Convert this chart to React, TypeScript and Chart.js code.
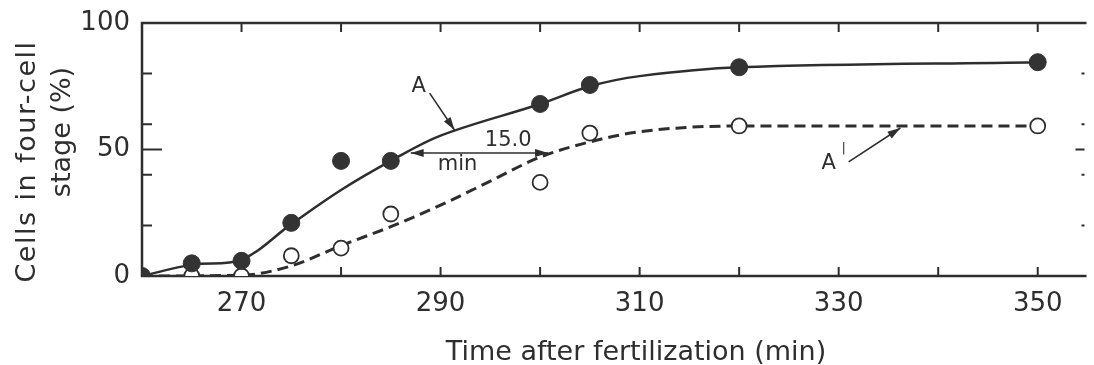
import React, { useEffect, useRef } from "react";
import { Chart, registerables } from "chart.js";

Chart.register(...registerables);

// ---- data ----
// Curve A (solid, fitted through filled points)
const curveAX = [260, 265, 270, 275, 280, 285, 290, 300, 305, 310, 320, 350];
const curveAY = [0, 4.5, 6.5, 20.5, 34, 45.5, 55.5, 68, 75, 79, 82.5, 84.5];
// Filled circles (series A)
const filledX = [260, 265, 270, 275, 280, 285, 300, 305, 320, 350];
const filledY = [0, 5, 6, 21, 45.5, 45.5, 68, 75.5, 82.5, 84.5];
// Open circles (series A')
const openX = [265, 270, 275, 280, 285, 300, 305, 320, 350];
const openY = [0, 0, 8, 11, 24.5, 37, 56.5, 59.3, 59.3];
// Curve A' (dashed, fitted)
const curveBX = [260, 270, 275, 280, 285, 290, 295, 300, 305, 310, 320, 350];
const curveBY = [0, 0.3, 4, 12, 19.5, 28, 37.5, 47, 53, 57, 59.3, 59.3];

// axis ticks
const xTickValues = [270, 280, 290, 300, 310, 320, 330, 340, 350];
const xTickLabels = ["270", "", "290", "", "310", "", "330", "", "350"];
const yTickValues = [0, 20, 40, 50, 60, 80, 100];
const yTickLabels = ["0", "", "", "50", "", "", "100"];

// text
const xTitle = "Time after fertilization (min)";
const yTitleLines = ["Cells in four-cell", "stage (%)"];

// annotations (data coordinates)
const labelA = { text: "A", x: 287.8, y: 75 };
const arrowA = { x1: 288.9, y1: 72.3, x2: 291.4, y2: 57.7 };
const label15 = { text: "15.0", x: 296.8, y: 53.4 };
const labelMin = { text: "min", x: 291.7, y: 44 };
const arrow15 = { x1: 287.0, x2: 300.8, y: 48.6 };
const labelA2 = { text: "A", x: 329.0, y: 44.3 };
const primeA2 = { text: "|", x: 330.5, y: 50.5 };
const arrowA2 = { x1: 331.0, y1: 45.1, x2: 336.2, y2: 58.5 };

const INK = "#2e2e2e";
const FONT = "'DejaVu Sans', sans-serif";

const toPts = (xs: number[], ys: number[]) => xs.map((x, i) => ({ x, y: ys[i] }));

function arrowHead(ctx: CanvasRenderingContext2D, x1: number, y1: number, x2: number, y2: number, len = 13, half = 4) {
  const a = Math.atan2(y2 - y1, x2 - x1);
  ctx.beginPath();
  ctx.moveTo(x2, y2);
  ctx.lineTo(x2 - len * Math.cos(a) + half * Math.sin(a), y2 - len * Math.sin(a) - half * Math.cos(a));
  ctx.lineTo(x2 - len * Math.cos(a) - half * Math.sin(a), y2 - len * Math.sin(a) + half * Math.cos(a));
  ctx.closePath();
  ctx.fill();
}

const framePlugin = {
  id: "frame",
  beforeDatasetsDraw(chart: any) {
    const { ctx, chartArea, scales } = chart;
    const { left, right, top, bottom } = chartArea;
    const x = scales.x;
    const y = scales.y;
    ctx.save();
    ctx.strokeStyle = INK;
    ctx.lineWidth = 2.5;
    ctx.beginPath();
    ctx.moveTo(right + 2, top);
    ctx.lineTo(left, top);
    ctx.lineTo(left, bottom);
    ctx.lineTo(right + 2, bottom);
    ctx.stroke();
    ctx.lineWidth = 2;
    ctx.beginPath();
    xTickValues.forEach((v) => {
      const px = x.getPixelForValue(v);
      ctx.moveTo(px, bottom);
      ctx.lineTo(px, bottom - 9);
      ctx.moveTo(px, top);
      ctx.lineTo(px, top + 9);
    });
    yTickValues.forEach((v) => {
      if (v === 0 || v === 100) return;
      const py = y.getPixelForValue(v);
      const len = v === 50 ? 20 : 10;
      const rlen = v === 50 ? 9 : 3;
      ctx.moveTo(left, py);
      ctx.lineTo(left + len, py);
      ctx.moveTo(right, py);
      ctx.lineTo(right - rlen, py);
    });
    ctx.stroke();
    ctx.restore();
  },
  afterDatasetsDraw(chart: any) {
    const { ctx, scales } = chart;
    const x = scales.x;
    const y = scales.y;
    const X = (v: number) => x.getPixelForValue(v);
    const Y = (v: number) => y.getPixelForValue(v);
    ctx.save();
    ctx.fillStyle = INK;
    ctx.strokeStyle = INK;
    ctx.lineWidth = 1.6;
    ctx.font = `21px ${FONT}`;
    ctx.textAlign = "center";
    ctx.textBaseline = "middle";
    [labelA, label15, labelMin, labelA2].forEach((l) => ctx.fillText(l.text, X(l.x), Y(l.y)));
    ctx.font = `13px ${FONT}`;
    ctx.fillText(primeA2.text, X(primeA2.x), Y(primeA2.y));

    // arrow A
    let ax1 = X(arrowA.x1), ay1 = Y(arrowA.y1), ax2 = X(arrowA.x2), ay2 = Y(arrowA.y2);
    ctx.beginPath();
    ctx.moveTo(ax1, ay1);
    ctx.lineTo(ax2, ay2);
    ctx.stroke();
    arrowHead(ctx, ax1, ay1, ax2, ay2);
    // arrow A'
    ax1 = X(arrowA2.x1); ay1 = Y(arrowA2.y1); ax2 = X(arrowA2.x2); ay2 = Y(arrowA2.y2);
    ctx.beginPath();
    ctx.moveTo(ax1, ay1);
    ctx.lineTo(ax2, ay2);
    ctx.stroke();
    arrowHead(ctx, ax1, ay1, ax2, ay2);
    // double arrow 15.0 min
    const bx1 = X(arrow15.x1), bx2 = X(arrow15.x2), by = Y(arrow15.y);
    ctx.beginPath();
    ctx.moveTo(bx1, by);
    ctx.lineTo(bx2, by);
    ctx.stroke();
    arrowHead(ctx, bx2, by, bx1, by);
    arrowHead(ctx, bx1, by, bx2, by);
    ctx.restore();
  },
  afterDraw(chart: any) {
    const { ctx } = chart;
    ctx.save();
    ctx.fillStyle = INK;
    ctx.font = `27px ${FONT}`;
    ctx.textAlign = "center";
    ctx.textBaseline = "alphabetic";
    ctx.fillText(xTitle, 636, 360);
    // y title (two rotated lines)
    const pos = [
      { bx: 35, cy: 161.5, sp: "1.5px" },
      { bx: 70, cy: 132, sp: "0px" },
    ];
    yTitleLines.forEach((t, i) => {
      ctx.save();
      ctx.translate(pos[i].bx, pos[i].cy);
      ctx.rotate(-Math.PI / 2);
      (ctx as any).letterSpacing = pos[i].sp;
      ctx.fillText(t, 0, 0);
      ctx.restore();
    });
    ctx.restore();
  },
};

export default function App() {
  const ref = useRef<HTMLCanvasElement | null>(null);
  useEffect(() => {
    if (!ref.current) return;
    const chart = new Chart(ref.current, {
      type: "scatter",
      data: {
        datasets: [
          {
            label: "A (points)",
            data: toPts(filledX, filledY),
            showLine: false,
            pointRadius: 8.5,
            pointBackgroundColor: "#333",
            pointBorderColor: "#333",
            pointBorderWidth: 1,
            order: 1,
          },
          {
            label: "A' (points)",
            data: toPts(openX, openY),
            showLine: false,
            pointRadius: 7.5,
            pointBackgroundColor: "#fff",
            pointBorderColor: INK,
            pointBorderWidth: 1.8,
            order: 1,
          },
          {
            label: "A",
            data: toPts(curveAX, curveAY),
            showLine: true,
            borderColor: INK,
            borderWidth: 2.5,
            pointRadius: 0,
            tension: 0.35,
            order: 2,
          },
          {
            label: "A'",
            data: toPts(curveBX, curveBY),
            showLine: true,
            borderColor: INK,
            borderWidth: 3,
            borderDash: [11, 6],
            pointRadius: 0,
            cubicInterpolationMode: "monotone",
            order: 2,
          },
        ],
      } as any,
      options: {
        responsive: false,
        animation: false,
        layout: { padding: { top: 23, right: 0, left: 0, bottom: 0 } },
        plugins: { legend: { display: false }, tooltip: { enabled: false } },
        scales: {
          x: {
            type: "linear",
            min: 260,
            max: 354.7,
            grid: { display: false, drawTicks: false },
            border: { display: false },
            afterBuildTicks: (axis: any) => {
              axis.ticks = xTickValues.map((v) => ({ value: v }));
            },
            afterFit: (axis: any) => {
              axis.height = 89;
              axis.paddingLeft = 0;
              axis.paddingRight = 0;
            },
            ticks: {
              autoSkip: false,
              maxRotation: 0,
              padding: 13,
              color: INK,
              font: { family: FONT, size: 26 },
              callback: (v: any) => {
                const i = xTickValues.indexOf(Number(v));
                return i >= 0 ? xTickLabels[i] : "";
              },
            },
          },
          y: {
            type: "linear",
            min: 0,
            max: 100,
            grid: { display: false, drawTicks: false },
            border: { display: false },
            afterBuildTicks: (axis: any) => {
              axis.ticks = yTickValues.map((v) => ({ value: v }));
            },
            afterFit: (axis: any) => {
              axis.width = 142;
              axis.paddingTop = 0;
              axis.paddingBottom = 0;
            },
            ticks: {
              autoSkip: false,
              padding: 12,
              color: INK,
              font: { family: FONT, size: 26 },
              callback: (v: any) => {
                const i = yTickValues.indexOf(Number(v));
                return i >= 0 ? yTickLabels[i] : "";
              },
            },
          },
        },
      } as any,
      plugins: [framePlugin],
    });
    return () => chart.destroy();
  }, []);
  return (
    <div
      style={{
        position: "fixed",
        left: 0,
        top: 0,
        width: 1094,
        height: 365,
        overflow: "hidden",
        background: "#fff",
      }}
    >
      <canvas ref={ref} width={1094} height={365} style={{ width: 1094, height: 365, display: "block" }} />
    </div>
  );
}
